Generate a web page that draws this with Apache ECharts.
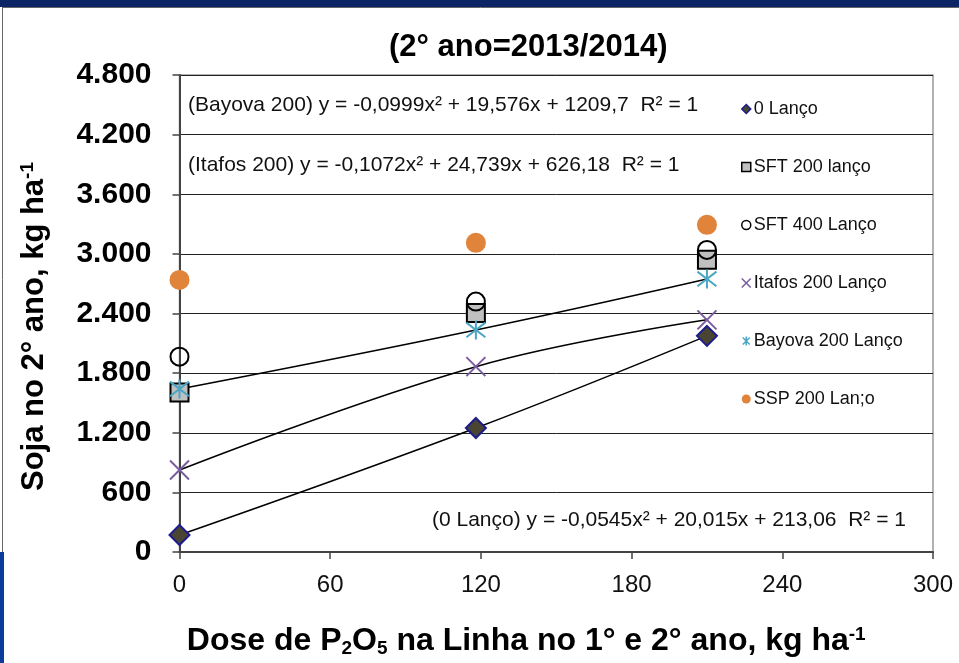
<!DOCTYPE html>
<html>
<head>
<meta charset="utf-8">
<script src="https://cdn.jsdelivr.net/npm/echarts@6/dist/echarts.min.js"></script>
<style>
  html, body { margin: 0; padding: 0; background: #fff; }
  #chart { width: 959px; height: 663px; }
</style>
</head>
<body>
<div id="chart"></div>
<script>
// ---- data ----
const doses = [0, 118, 210];
const lanco0 = [171, 1248, 2175];
const sft200 = [1604, 2406, 2940];
const sft400 = [1966, 2520, 3040];
const itafos = [825, 1865, 2336];
const bayova = [1641, 2235, 2748];
const ssp = [2738, 3111, 3292];
const seriesNames = ['0 Lanço', 'SFT 200 lanço', 'SFT 400 Lanço', 'Itafos 200 Lanço', 'Bayova 200 Lanço', 'SSP 200 Lan;o'];
const equations = [
  '(Bayova 200) y = -0,0999x² + 19,576x + 1209,7  R² = 1',
  '(Itafos 200) y = -0,1072x² + 24,739x + 626,18  R² = 1',
  '(0 Lanço) y = -0,0545x² + 20,015x + 213,06  R² = 1'
];
const titleText = '(2° ano=2013/2014)';

const pairs = arr => doses.map((d, i) => [d, arr[i]]);
const FONT = 'Liberation Sans, Arial, sans-serif';

const xPath = 'path://M0,0L10,10M10,0L0,10';
const astPath = 'path://M0,0L10,10M10,0L0,10M5,-1.5L5,11.5';

function trend(arr) {
  return {
    type: 'line', data: pairs(arr), smooth: 0.4, symbol: 'none', silent: true,
    lineStyle: { color: '#000', width: 1.5 }, z: 3
  };
}

const chart = echarts.init(document.getElementById('chart'));
chart.setOption({
  animation: false,
  backgroundColor: '#fff',
  title: {
    text: titleText, left: 384, top: 27,
    textStyle: { fontFamily: FONT, fontWeight: 'bold', fontSize: 31, color: '#000' }
  },
  grid: { left: 179.5, right: 26, top: 75, bottom: 111, show: true, borderColor: '#999', borderWidth: 1.5 },
  xAxis: {
    type: 'value', min: 0, max: 300, interval: 60,
    axisLine: { show: true, lineStyle: { color: '#444', width: 2 } },
    axisTick: { show: true, length: 7, lineStyle: { color: '#444', width: 1.5 } },
    splitLine: { show: false },
    axisLabel: { margin: 21, fontFamily: FONT, fontSize: 24, color: '#111' },
    name: 'Dose de P{sub|2}O{sub|5} na Linha no 1° e 2° ano, kg ha{sup|-1}',
    nameLocation: 'middle', nameGap: 73,
    nameTextStyle: {
      fontFamily: FONT, fontWeight: 'bold', fontSize: 32, color: '#000', padding: [0, 60, 0, 0],
      rich: {
        sub: { fontFamily: FONT, fontWeight: 'bold', fontSize: 19, verticalAlign: 'bottom', padding: [14, 0, 0, 0] },
        sup: { fontFamily: FONT, fontWeight: 'bold', fontSize: 19, verticalAlign: 'top', padding: [0, 0, 14, 0] }
      }
    }
  },
  yAxis: {
    type: 'value', min: 0, max: 4800, interval: 600,
    axisLine: { show: true, lineStyle: { color: '#444', width: 2 } },
    axisTick: { show: true, length: 7, lineStyle: { color: '#444', width: 1.5 } },
    splitLine: { show: true, lineStyle: { color: '#222', width: 1 } },
    axisLabel: {
      margin: 28, fontFamily: FONT, fontWeight: 'bold', fontSize: 30, color: '#000',
      formatter: v => v >= 1000 ? Math.floor(v / 1000) + '.' + String(v % 1000).padStart(3, '0') : String(v)
    },
    name: 'Soja no 2° ano, kg ha{sup|-1}',
    nameLocation: 'middle', nameGap: 129, nameRotate: 90,
    nameTextStyle: {
      fontFamily: FONT, fontWeight: 'bold', fontSize: 31, color: '#000', padding: [0, 26, 0, 0],
      rich: {
        sup: { fontFamily: FONT, fontWeight: 'bold', fontSize: 19, verticalAlign: 'top', padding: [0, 0, 13, 0] }
      }
    }
  },
  legend: {
    data: seriesNames, orient: 'vertical', left: 736, top: 95, itemGap: 40,
    itemWidth: 9, itemHeight: 9, itemStyle: { borderWidth: 1.5 },
    textStyle: { fontFamily: FONT, fontSize: 18, color: '#111', padding: [0, 0, 0, -2] }
  },
  graphic: [
    { type: 'rect', left: 0, top: 0, shape: { width: 959, height: 7 }, style: { fill: '#0b2466' }, z: 100 },
    { type: 'rect', left: 0, top: 552, shape: { width: 4, height: 111 }, style: { fill: '#0a3c9c' }, z: 100 },
    { type: 'line', shape: { x1: 2.5, y1: 7, x2: 2.5, y2: 552 }, style: { stroke: '#666', lineWidth: 1 }, z: 100 },
    { type: 'line', shape: { x1: 2.5, y1: 7.5, x2: 959, y2: 7.5 }, style: { stroke: '#666', lineWidth: 1 }, z: 100 },
    { type: 'text', left: 188, top: 95, style: { text: equations[0], font: '21px ' + FONT, fill: '#111' }, z: 100 },
    { type: 'text', left: 188, top: 155, style: { text: equations[1], font: '21px ' + FONT, fill: '#111' }, z: 100 },
    { type: 'text', left: 432, top: 510, style: { text: equations[2], font: '21px ' + FONT, fill: '#111' }, z: 100 }
  ],
  series: [
    trend(lanco0), trend(itafos), trend(bayova),
    { name: seriesNames[0], type: 'scatter', data: pairs(lanco0), symbol: 'diamond', symbolSize: 20, z: 4,
      itemStyle: { color: '#4a4432', borderColor: '#1c1c8c', borderWidth: 2, opacity: 1 } },
    { name: seriesNames[1], type: 'scatter', data: pairs(sft200), symbol: 'rect', symbolSize: 18, z: 4,
      itemStyle: { color: '#c0c0c0', borderColor: '#000', borderWidth: 2, opacity: 1 } },
    { name: seriesNames[2], type: 'scatter', data: pairs(sft400), symbol: 'circle', symbolSize: 18, z: 4,
      itemStyle: { color: 'rgba(255,255,255,0)', borderColor: '#000', borderWidth: 2, opacity: 1 } },
    { name: seriesNames[3], type: 'scatter', data: pairs(itafos), symbol: xPath, symbolSize: 19, z: 4,
      itemStyle: { color: 'rgba(0,0,0,0)', borderColor: '#7a5c9e', borderWidth: 2, opacity: 1 } },
    { name: seriesNames[4], type: 'scatter', data: pairs(bayova), symbol: astPath, symbolSize: 19, z: 4,
      itemStyle: { color: 'rgba(0,0,0,0)', borderColor: '#4aa6c2', borderWidth: 2, opacity: 1 } },
    { name: seriesNames[5], type: 'scatter', data: pairs(ssp), symbol: 'circle', symbolSize: 20, z: 4,
      itemStyle: { color: '#e0843c', borderWidth: 0, opacity: 1 } }
  ]
});
</script>
</body>
</html>
